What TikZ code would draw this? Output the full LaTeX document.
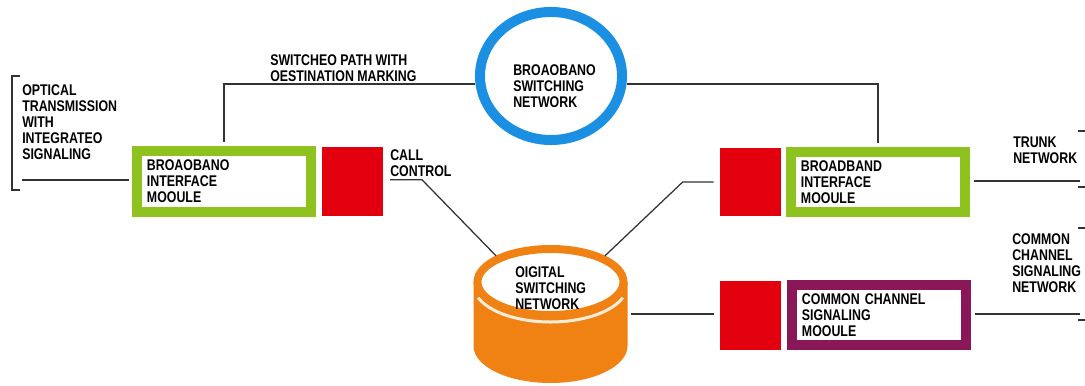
\documentclass[tikz,border=0pt]{standalone}
\usepackage{fontspec}
\usetikzlibrary{shapes.geometric,calc}
\newfontfamily\diagfont{Liberation Sans}[FakeStretch=0.8]
\newcommand\lblfont{\diagfont\bfseries\fontsize{11}{11.4}\selectfont}
\definecolor{bbgreen}{RGB}{141,194,31}
\definecolor{bsnblue}{RGB}{27,143,226}
\definecolor{dsnorange}{RGB}{240,130,20}
\definecolor{ctrlred}{RGB}{226,0,15}
\definecolor{ccspurple}{RGB}{138,24,88}

\begin{document}
\begin{tikzpicture}[x=0.025cm, y=0.025cm,
    wire/.style={draw=black!80, line width=0.9pt},
    lbl/.style={font=\lblfont, align=left, inner sep=0pt, anchor=west},
    modbox/.style={draw=#1, fill=white, line width=0.25cm, outer sep=0.125cm,
        minimum width=4.35cm, minimum height=1.5cm, text width=3.85cm,
        inner xsep=0.25cm, inner ysep=0pt, align=left, font=\lblfont},
    ctrl/.style={fill=ctrlred, minimum width=1.525cm, minimum height=1.7cm, inner sep=0pt}]
    \useasboundingbox (0,0) rectangle (1085,-386);
    % Draw broadband switching network
    \node[ellipse, draw=bsnblue, line width=0.25cm, outer sep=0.125cm,
          minimum width=3.55cm, minimum height=3.2cm] (bsn) at (551,-76) {};
    \node[lbl] (bsnlbl) at (513,-86) {BROAOBANO\\SWITCHING\\NETWORK};
    % Draw digital switching network
    \fill[dsnorange] (473.5,-282) -- (473.5,-346)
        arc[start angle=180, end angle=360, x radius=77, y radius=37] -- (627.5,-282) -- cycle;
    \draw[orange!15!white, line width=0.075cm] ([shift={(200:77 and 37)}]550.5,-285)
        arc[start angle=200, end angle=340, x radius=77, y radius=37];
    \node[ellipse, draw=dsnorange, fill=white, line width=0.2cm, outer sep=0.1cm,
          minimum width=3.65cm, minimum height=1.65cm] (dsn) at (550.5,-282) {};
    \node[lbl] (dsnlbl) at (515,-288) {OIGITAL\\SWITCHING\\NETWORK};
    % Draw modules and call control
    \node[modbox=bbgreen] (bimleft) at (224,-181.5) {BROAOBANO\\INTERFACE\\MOOULE};
    \node[ctrl] (redl) at (352.5,-181.5) {};
    \node[ctrl] (redr) at (750.5,-182) {};
    \node[modbox=bbgreen] (bimright) at (878,-182) {BROADBAND\\INTERFACE\\MOOULE};
    \node[ctrl] (redc) at (750.5,-315.5) {};
    \node[modbox=ccspurple] (ccsm) at (879,-315) {COMMON CHANNEL\\SIGNALING\\MOOULE};
    % Draw labels
    \node[lbl] (optlbl) at (22,-122) {OPTICAL\\TRANSMISSION\\WITH\\INTEGRATEO\\SIGNALING};
    \node[lbl] (pathlbl) at (270,-68.5) {SWITCHEO PATH WITH\\OESTINATION MARKING};
    \node[lbl] (calllbl) at (390,-163) {CALL\\CONTROL};
    \node[lbl] (trunklbl) at (1013,-150) {TRUNK\\NETWORK};
    \node[lbl] (ccnlbl) at (1012,-263) {COMMON\\CHANNEL\\SIGNALING\\NETWORK};
    % Draw free line ends
    \coordinate (optin) at (22,-180);
    \coordinate (dsnout) at (631,-314);
    \coordinate (trunkout) at (1080,-181);
    \coordinate (ccsout) at (1080,-314);
    % Draw optical input with bracket
    \draw[wire] (20,-76) -- (12,-76) -- (12,-190) -- (20,-190);
    \draw[wire, shorten >=0.075cm] (optin) -- (optin -| bimleft.west);
    % Draw switched path
    \draw[wire, shorten <=0.11cm] (bimleft.north) |- (bsn.186);
    \draw[wire, shorten <=0.11cm] (bimright.north) |- (bsn.354);
    % Draw call control lines
    \draw[wire] ([yshift=-0.075cm]calllbl.south west) -- ++(32,0) -- (dsn.north west);
    \draw[wire, shorten >=0.15cm] (dsn.north east) -- ($(redr.west)+(-37,0)$) -- (redr.west);
    \draw[wire, shorten >=0.15cm] (dsnout) -- (dsnout -| redc.west);
    % Draw network lines
    \draw[wire, shorten <=0.11cm] (trunkout -| bimright.east) -- (trunkout);
    \draw[wire, shorten <=0.11cm] (ccsout -| ccsm.east) -- (ccsout);
    \foreach \y in {131,187,228,320}
        \draw[wire] (1078,-\y) -- (1085,-\y);
\end{tikzpicture}
\end{document}
